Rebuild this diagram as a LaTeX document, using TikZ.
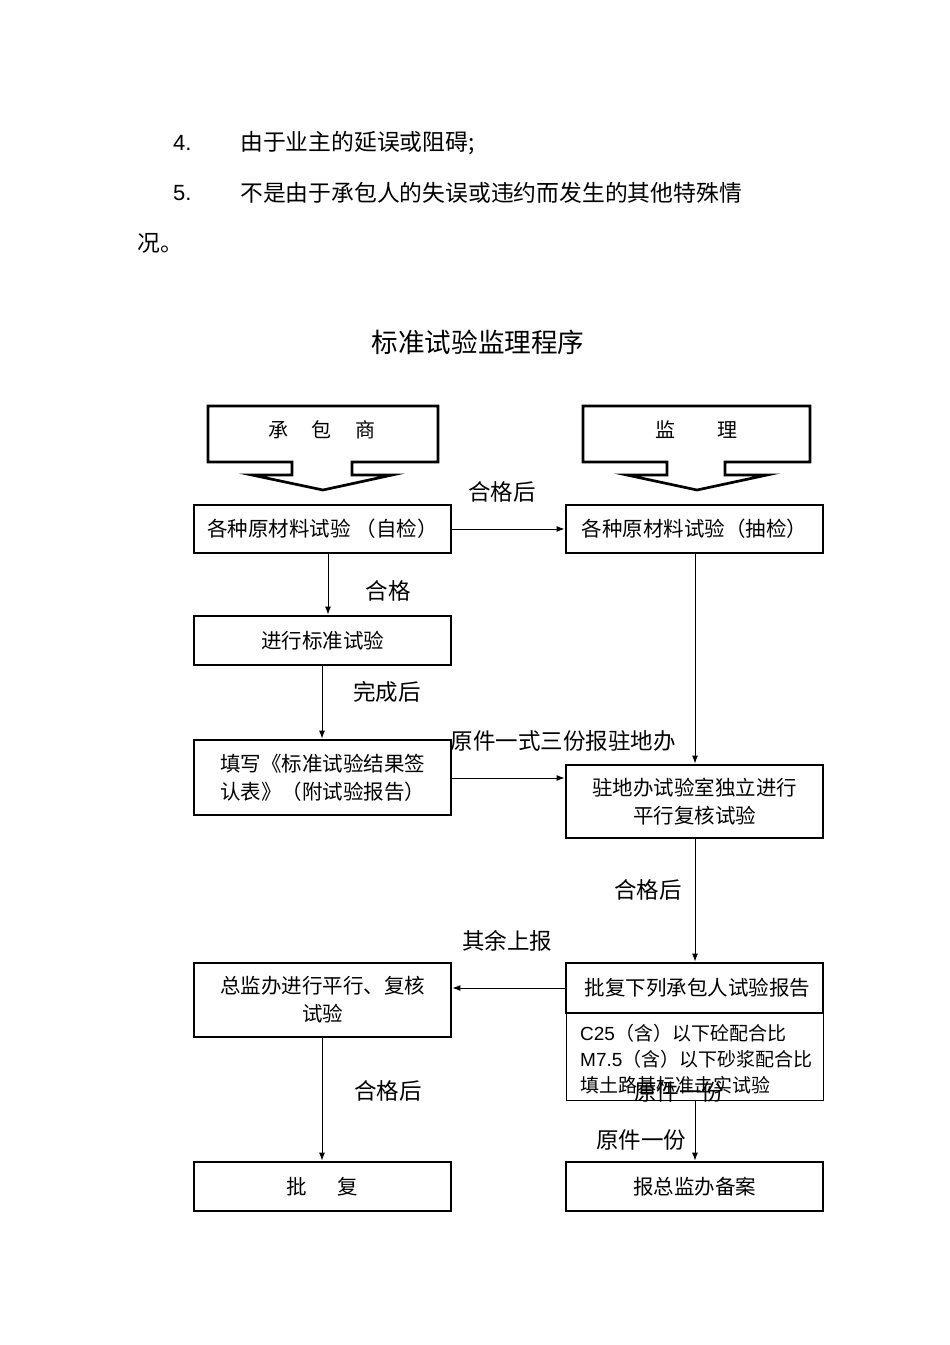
\documentclass[tikz,border=0pt]{standalone}
\usepackage{fontspec}
\setmainfont{Liberation Sans}
\newfontfamily\cjk{Noto Sans CJK SC}
\usetikzlibrary{arrows.meta}
\begin{document}
\begin{tikzpicture}[x=1pt,y=-1pt,
  box/.style={draw,line width=2.8pt,minimum width=257pt,align=center,inner sep=0pt,font=\cjk\fontsize{20.5}{28}\selectfont},
  lbl/.style={font=\cjk\fontsize{22.5}{24}\selectfont,inner sep=0pt},
  para/.style={font=\cjk\fontsize{22.8}{26}\selectfont,inner sep=0pt,anchor=west},
  call/.style={draw,line width=2.7pt,line join=miter},
  conn/.style={line width=1pt,-{Latex[length=8pt,width=6pt]}}]
\useasboundingbox (0,0) rectangle (950,1345);
% paragraph text
\node[para] (n4) at (173,143) {\fontspec{Liberation Sans}\fontsize{22}{24}\selectfont 4.};
\node[para] (t4) at (240,143) {由于业主的延误或阻碍;};
\node[para] (n5) at (173,193) {\fontspec{Liberation Sans}\fontsize{22}{24}\selectfont 5.};
\node[para] (t5) at (240,193) {不是由于承包人的失误或违约而发生的其他特殊情};
\node[para] (t6) at (137,243) {况。};
% title
\node[font=\cjk\fontsize{26.6}{30}\selectfont,inner sep=0pt] (title) at (478,342) {标准试验监理程序};
% callouts
\draw[call] (208,406) -- (438,406) -- (438,462) -- (352,462) -- (352,475) -- (392,475) -- (323,490) -- (252,475) -- (292,475) -- (292,462) -- (208,462) -- cycle;
\node[font=\cjk\fontsize{20}{24}\selectfont,inner sep=0pt] (cbs) at (322,430) {承\hspace{1.2em}包\hspace{1.2em}商};
\draw[call] (583,406) -- (810,406) -- (810,462) -- (725,462) -- (725,475) -- (767,475) -- (697,490) -- (627,475) -- (667,475) -- (667,462) -- (583,462) -- cycle;
\node[font=\cjk\fontsize{20}{24}\selectfont,inner sep=0pt] (jl) at (696,430) {监\hspace{2.1em}理};
% boxes
\node[box,minimum height=48pt] (A1) at (322.5,529) {各种原材料试验 （自检）};
\node[box,minimum height=48pt] (B1) at (694.5,529) {各种原材料试验（抽检）};
\node[box,minimum height=49pt] (A2) at (322.5,640.5) {进行标准试验};
\node[box,minimum height=75pt] (A3) at (322.5,777.5) {填写《标准试验结果签\\认表》（附试验报告）};
\node[box,minimum height=73pt] (B2) at (694.5,801.5) {驻地办试验室独立进行\\平行复核试验};
\node[box,minimum height=50pt] (B3) at (694.5,988) {\hspace{6pt}批复下列承包人试验报告};
\node[draw,line width=0.8pt,minimum width=257pt,minimum height=87pt,inner sep=0pt] (B3s) at (694.5,1056.5) {};
\node[anchor=north west,align=left,inner sep=0pt,font=\fontsize{19}{26}\selectfont] (B3t) at (580,1024) {C25{\cjk（含）以下砼配合比}\\M7.5{\cjk（含）以下砂浆配合比}\\{\cjk 填土路基标准击实试验}};
\node[box,minimum height=74pt] (A4) at (322.5,1000) {总监办进行平行、复核\\试验};
\node[box,minimum height=49pt] (A5) at (322.5,1186.5) {批\hspace{1.5em}复};
\node[box,minimum height=49pt] (B4) at (694.5,1186.5) {报总监办备案};
% connectors
\draw[conn] (A1.east) -- (B1.west);
\draw[conn] (A1.south -| 328,0) -- (A2.north -| 328,0);
\draw[conn] (A2.south -| 322,0) -- (A3.north -| 322,0);
\draw[conn] (B1.south -| 695,0) -- (B2.north -| 695,0);
\draw[conn] (A3.east |- 0,778) -- (B2.west |- 0,778);
\draw[conn] (B2.south -| 695,0) -- (B3.north -| 695,0);
\draw[conn] (B3.west) -- (A4.east |- B3.west);
\draw[conn] (A4.south -| 322,0) -- (A5.north -| 322,0);
\draw[conn] (B3s.south -| 695,0) -- (B4.north -| 695,0);
% labels
\node[lbl] (l1) at (502,492) {合格后};
\node[lbl] (l2) at (388,591) {合格};
\node[lbl] (l3) at (387,692) {完成后};
\node[lbl] (l4) at (563,741) {原件一式三份报驻地办};
\node[lbl] (l5) at (648,890) {合格后};
\node[lbl] (l6) at (507,941) {其余上报};
\node[lbl] (l7) at (679,1092) {原件一份};
\node[lbl] (l8) at (388,1091) {合格后};
\node[lbl] (l9) at (641,1140) {原件一份};
\end{tikzpicture}
\end{document}
